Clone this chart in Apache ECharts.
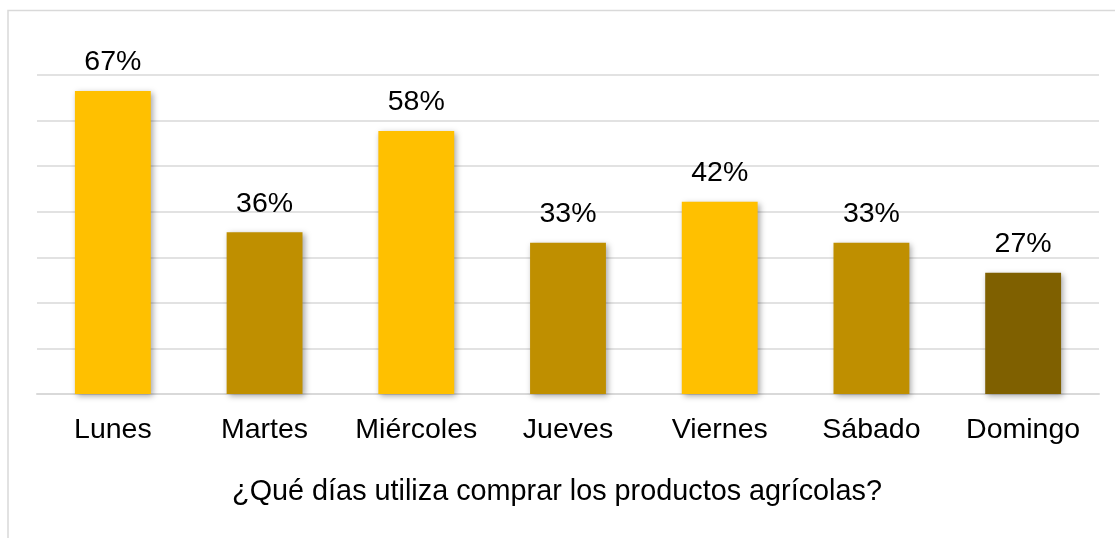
<!DOCTYPE html>
<html>
<head>
<meta charset="utf-8">
<script src="https://cdn.jsdelivr.net/npm/echarts@6/dist/echarts.min.js"></script>
<style>
html,body{margin:0;padding:0;background:#fff;}
#c{width:1115px;height:538px;}
</style>
</head>
<body>
<div id="c"></div>
<script>
const categories = ["Lunes","Martes","Miércoles","Jueves","Viernes","Sábado","Domingo"];
const values = [66.5, 35.5, 57.7, 33.2, 42.2, 33.2, 26.6];
const barColors = ["#FFC000","#BF8F00","#FFC000","#BF8F00","#FFC000","#BF8F00","#7F6000"];
const axisTitle = "¿Qué días utiliza comprar los productos agrícolas?";

const FONT = "'Liberation Sans', Arial, sans-serif";
const chart = echarts.init(document.getElementById('c'), null, {renderer:'canvas'});
chart.setOption({
  animation:false,
  backgroundColor:'#fff',
  graphic:[
    {type:'rect', shape:{x:8, y:10.5, width:1200, height:600},
     style:{fill:'none', stroke:'#d9d9d9', lineWidth:1.5}, z:-1}
  ],
  grid:{left:37, right:16, top:75, bottom:144, containLabel:false},
  xAxis:{
    type:'category', data:categories,
    axisLine:{show:true, lineStyle:{color:'#d9d9d9', width:2}},
    axisTick:{show:false},
    axisLabel:{color:'#000', fontSize:28.5, fontFamily:FONT, margin:22, interval:0},
    name:axisTitle, nameLocation:'middle', nameGap:84,
    nameTextStyle:{color:'#000', fontSize:28.8, fontFamily:FONT, padding:[0,22,0,0]}
  },
  yAxis:{
    type:'value', min:0, max:70, interval:10,
    axisLabel:{show:false}, axisLine:{show:false}, axisTick:{show:false},
    splitLine:{lineStyle:{color:'#d9d9d9', width:1.5}}
  },
  series:[{
    type:'bar', barWidth:'50%',
    data: values.map((v,i)=>({value:v, itemStyle:{color:barColors[i]}})),
    itemStyle:{shadowColor:'rgba(0,0,0,0.35)', shadowBlur:6, shadowOffsetX:2, shadowOffsetY:2},
    label:{show:true, position:'top', distance:14, color:'#000', fontSize:28.5, fontFamily:FONT,
      formatter:p=>Math.round(p.value)+'%'}
  }]
});
</script>
</body>
</html>
